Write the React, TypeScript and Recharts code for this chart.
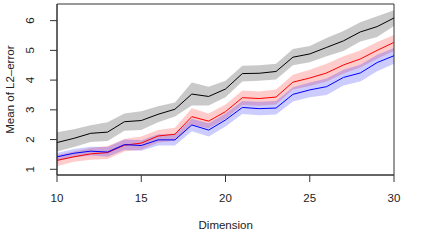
import {
  Area,
  ComposedChart,
  Line,
  ReferenceArea,
  XAxis,
  YAxis,
} from 'recharts';

const dims = [10, 11, 12, 13, 14, 15, 16, 17, 18, 19, 20, 21, 22, 23, 24, 25, 26, 27, 28, 29, 30];

const blackMean = [1.9, 2.04, 2.21, 2.25, 2.6, 2.64, 2.85, 3.02, 3.53, 3.45, 3.7, 4.22, 4.23, 4.29, 4.77, 4.88, 5.1, 5.32, 5.62, 5.8, 6.09];
const blackHi = [2.25, 2.35, 2.48, 2.58, 2.88, 2.95, 3.12, 3.25, 3.92, 3.78, 3.98, 4.48, 4.5, 4.55, 5.05, 5.15, 5.42, 5.65, 5.95, 6.15, 6.35];
const blackLo = [1.6, 1.75, 1.92, 1.95, 2.3, 2.32, 2.58, 2.78, 3.15, 3.15, 3.42, 3.95, 3.98, 4.02, 4.5, 4.6, 4.8, 4.98, 5.3, 5.45, 5.82];

const redMean = [1.3, 1.42, 1.52, 1.56, 1.81, 1.88, 2.12, 2.18, 2.77, 2.62, 2.94, 3.41, 3.38, 3.43, 3.93, 4.07, 4.24, 4.51, 4.71, 5.0, 5.27];
const redHi = [1.48, 1.6, 1.72, 1.78, 2.02, 2.1, 2.32, 2.4, 3.05, 2.88, 3.18, 3.65, 3.62, 3.68, 4.18, 4.35, 4.55, 4.8, 5.0, 5.28, 5.52];
const redLo = [1.1, 1.25, 1.32, 1.35, 1.6, 1.66, 1.9, 1.96, 2.5, 2.38, 2.7, 3.16, 3.14, 3.18, 3.68, 3.8, 3.95, 4.22, 4.42, 4.72, 4.98];

const blueMean = [1.42, 1.54, 1.61, 1.58, 1.83, 1.8, 1.99, 1.99, 2.49, 2.32, 2.66, 3.08, 3.04, 3.06, 3.52, 3.67, 3.78, 4.09, 4.24, 4.59, 4.82];
const blueHi = [1.55, 1.68, 1.76, 1.75, 2.0, 1.98, 2.18, 2.18, 2.7, 2.55, 2.88, 3.3, 3.27, 3.3, 3.76, 3.92, 4.05, 4.35, 4.52, 4.85, 5.08];
const blueLo = [1.28, 1.4, 1.46, 1.42, 1.65, 1.62, 1.8, 1.8, 2.28, 2.1, 2.44, 2.86, 2.82, 2.84, 3.28, 3.42, 3.5, 3.82, 3.95, 4.3, 4.55];

const xTicks = [10, 15, 20, 25, 30];
const yTicks = [1, 2, 3, 4, 5, 6];

const data = dims.map((d, i) => ({
  dim: d,
  black: blackMean[i],
  blackBand: [blackLo[i], blackHi[i]],
  red: redMean[i],
  redBand: [redLo[i], redHi[i]],
  blue: blueMean[i],
  blueBand: [blueLo[i], blueHi[i]],
}));

const FONT = '"Liberation Sans", Arial, sans-serif';
const AXIS = '#333';

function XTick({ x, y, payload }: any) {
  return (
    <text x={x} y={y + 17.5} textAnchor="middle" fontSize={11.5} fontFamily={FONT} fill="#222">
      {payload.value}
    </text>
  );
}

function YTick({ y, payload }: any) {
  return (
    <text
      transform={`translate(34,${y}) rotate(-90)`}
      textAnchor="middle"
      fontSize={11.5}
      fontFamily={FONT}
      fill="#222"
    >
      {payload.value}
    </text>
  );
}

export default function App() {
  return (
    <div style={{ position: 'absolute', left: 0, top: 0, width: 424, height: 247, background: '#fff' }}>
      <ComposedChart
        width={424}
        height={247}
        data={data}
        margin={{ top: 4, right: 30, bottom: 0, left: 0 }}
      >
        <XAxis
          dataKey="dim"
          type="number"
          domain={[10, 30]}
          ticks={xTicks}
          height={72}
          stroke={AXIS}
          tickSize={7}
          tick={<XTick />}
        />
        <YAxis
          type="number"
          domain={[0.808, 6.56]}
          ticks={yTicks}
          width={57}
          stroke={AXIS}
          tickSize={7}
          tick={<YTick />}
          allowDataOverflow
        />
        <ReferenceArea x1={10} x2={30} y1={0.808} y2={6.56} stroke={AXIS} fill="none" ifOverflow="visible" />

        <Area dataKey="blackBand" stroke="none" fill="#000" fillOpacity={0.21} isAnimationActive={false} activeDot={false} />
        <Area dataKey="redBand" stroke="none" fill="#ff0000" fillOpacity={0.2} isAnimationActive={false} activeDot={false} />
        <Area dataKey="blueBand" stroke="none" fill="#0000ff" fillOpacity={0.2} isAnimationActive={false} activeDot={false} />

        <Line dataKey="black" stroke="#000" strokeWidth={1} dot={false} isAnimationActive={false} />
        <Line dataKey="red" stroke="#ff0000" strokeWidth={1} dot={false} isAnimationActive={false} />
        <Line dataKey="blue" stroke="#0000ff" strokeWidth={1} dot={false} isAnimationActive={false} />
      </ComposedChart>
      <svg
        width={424}
        height={247}
        style={{ position: 'absolute', left: 0, top: 0, pointerEvents: 'none' }}
      >
        <text x={225.7} y={229} textAnchor="middle" fontSize={11.5} fontFamily={FONT} fill="#222">
          Dimension
        </text>
        <text
          transform="translate(13.5,89.6) rotate(-90)"
          textAnchor="middle"
          fontSize={11.5}
          fontFamily={FONT}
          fill="#222"
        >
          Mean of L2–error
        </text>
      </svg>
    </div>
  );
}
